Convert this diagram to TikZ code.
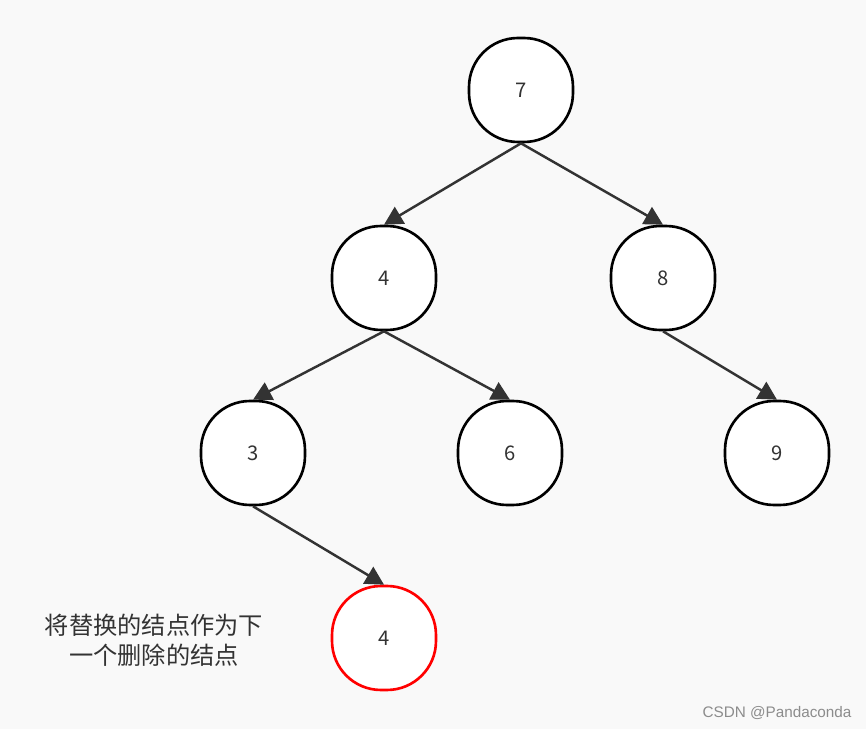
\documentclass[tikz,border=0pt]{standalone}
\usepackage{fontspec}
\setmainfont{Liberation Sans}
\newfontfamily\cjk{Noto Sans CJK SC}
\usepackage{xcolor}
\usetikzlibrary{arrows.meta}
\definecolor{bgc}{HTML}{F9F9F9}
\definecolor{edgec}{HTML}{333333}

\begin{document}
\begin{tikzpicture}[x=0.02cm,y=-0.02cm,
  every node/.style={font=\cjk\fontsize{11.5}{13}\selectfont},
  nd/.style={draw=black,fill=white,line width=1.5pt,minimum size=2.08cm,
    rounded corners=0.98cm,inner sep=0pt,text=black!80},
  ed/.style={draw=edgec,line width=1.4pt,-{Triangle[length=10.5pt,width=11pt]}}]
 \fill[bgc] (0,0) rectangle (866,729);
 \useasboundingbox (0,0) rectangle (866,729);
 \node[nd] (n7) at (521,90) {7};
 \node[nd] (n4) at (384,278) {4};
 \node[nd] (n8) at (663,278) {8};
 \node[nd] (n3) at (253,453) {3};
 \node[nd] (n6) at (510,453) {6};
 \node[nd] (n9) at (777,453) {9};
 \node[nd,draw=red] (r4) at (384,638) {4};
 \foreach \a/\b in {n7/n4,n7/n8,n4/n3,n4/n6,n8/n9,n3/r4}
   \draw[ed] (\a.south)--(\b.north);
 \node[align=center,font=\cjk\fontsize{13.8}{17}\selectfont,text=black!80] (note) at (154,640)
   {将替换的结点作为下\\一个删除的结点};
 \node[font=\fontsize{8.7}{10}\selectfont,text=black!45] (mark) at (777,713) {CSDN @Pandaconda};
\end{tikzpicture}
\end{document}
